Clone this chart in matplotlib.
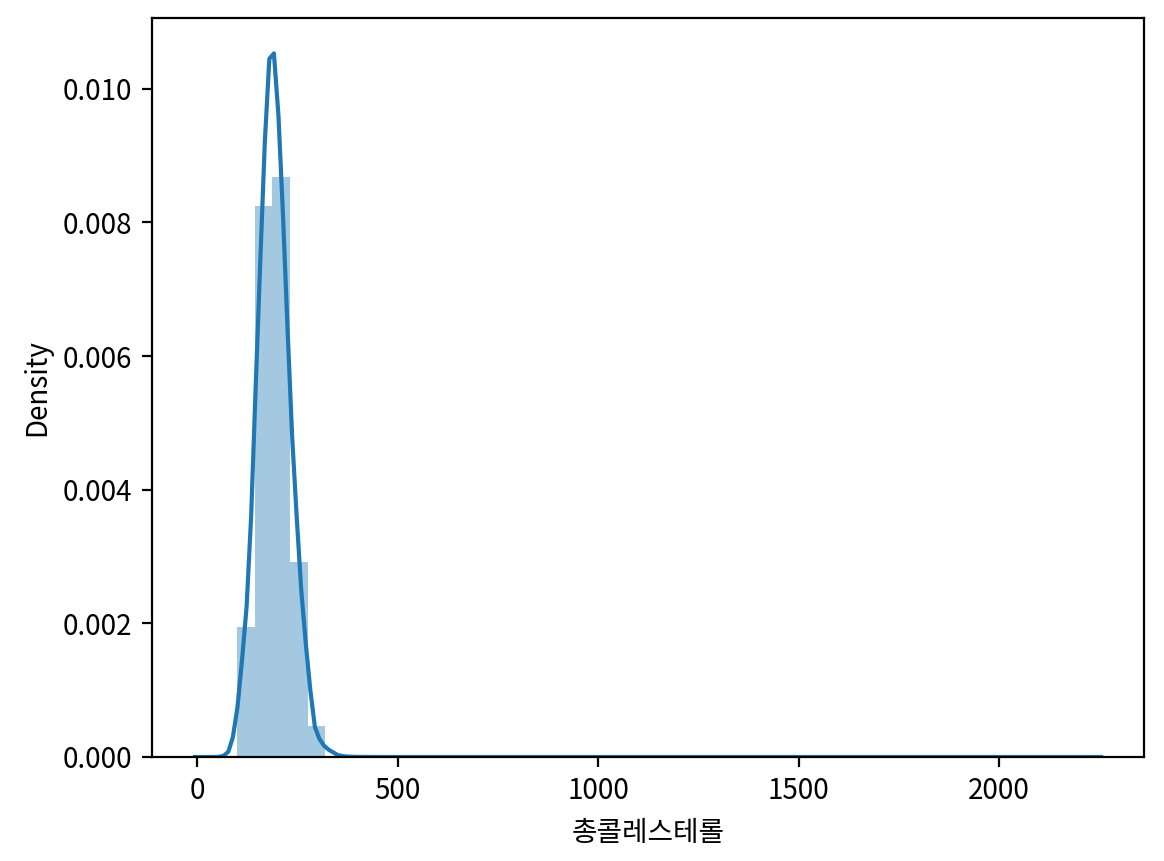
import matplotlib
matplotlib.use("Agg")
import matplotlib.pyplot as plt

plt.rcParams['font.family'] = ['Noto Sans CJK KR', 'DejaVu Sans']
plt.rcParams['axes.unicode_minus'] = False

# histogram (density)
bin_edges = [100, 144, 188, 232, 276, 320]
bin_heights = [0.00195, 0.00825, 0.00868, 0.00292, 0.00046]

# KDE curve points
kde_x = [-5, 20, 44.3, 55.7, 67.0, 78.4, 89.7, 101.1, 112.4, 123.8, 135.1, 146.5,
         157.8, 169.2, 180.5, 191.9, 203.2, 214.6, 225.9, 237.3, 248.6, 260.0,
         271.3, 282.7, 294.0, 305.4, 316.7, 328.1, 339.4, 350.8, 362.1, 373.5,
         396.2, 450, 600, 1000, 1500, 2000, 2254]
kde_y = [0.0, 0.0, 0.0, 0.000003, 0.00002, 0.00008, 0.00030, 0.00075, 0.00145,
         0.00225, 0.00360, 0.00555, 0.00740, 0.00920, 0.01045, 0.01053, 0.00960,
         0.00810, 0.00640, 0.00480, 0.00360, 0.00250, 0.00170, 0.00100, 0.00045,
         0.00027, 0.00017, 0.00011, 0.00007, 0.00003, 0.000015, 0.000007,
         0.000002, 0.0, 0.0, 0.0, 0.0, 0.0, 0.0]

x_label = "총콜레스테롤"
y_label = "Density"

fig = plt.figure(figsize=(5.82, 4.305), dpi=200)
ax = fig.add_axes([0.1306, 0.1208, 0.8522, 0.8583])

widths = [bin_edges[i + 1] - bin_edges[i] for i in range(len(bin_heights))]
ax.bar(bin_edges[:-1], bin_heights, width=widths, align='edge',
       color='C0', alpha=0.4, linewidth=0)
ax.plot(kde_x, kde_y, color='C0', linewidth=1.5)

ax.set_xlim(-112, 2361)
ax.set_ylim(0, 0.01106)
ax.set_xticks([0, 500, 1000, 1500, 2000])
ax.set_yticks([0.000, 0.002, 0.004, 0.006, 0.008, 0.010])
ax.set_yticklabels(["0.000", "0.002", "0.004", "0.006", "0.008", "0.010"])
ax.set_xlabel(x_label)
ax.set_ylabel(y_label)

fig.savefig("out.png", dpi=200)
